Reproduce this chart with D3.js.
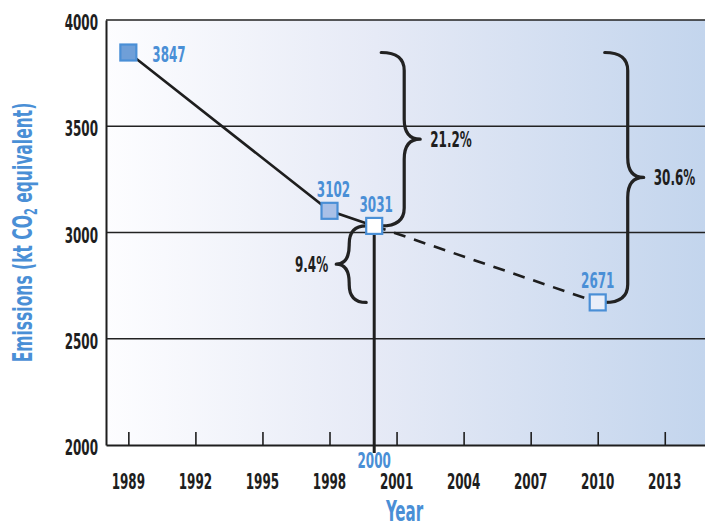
<!DOCTYPE html>
<html>
<head>
<meta charset="utf-8">
<script src="https://cdn.jsdelivr.net/npm/d3@7"></script>
<style>
  html, body { margin: 0; padding: 0; background: #fff; }
  svg text { font-family: "DejaVu Sans Condensed", "DejaVu Sans", sans-serif; font-stretch: condensed; }
</style>
</head>
<body>
<svg id="chart" width="705" height="529"></svg>
<script>
// Emissions series (kt CO2 equivalent)
const years = [1989, 1998, 2000, 2010];
const emissions = [3847, 3102, 3031, 2671];
const markerFills = ["#6f9fd8", "#a9c0e7", "#ffffff", "#e9eef9"];
const solidUntil = 2000; // later segment is a projection, drawn dashed

const xTicks = [1989, 1992, 1995, 1998, 2001, 2004, 2007, 2010, 2013];
const yTicks = [2000, 2500, 3000, 3500, 4000];
const gridValues = [2500, 3000, 3500, 4000];

// Reduction braces: value span, anchor year, side and label
const braceFrom = [3847, 3031, 3847];
const braceTo = [3031, 2671, 2671];
const braceYear = [2000, 2000, 2010];
const braceSide = ["right", "left", "right"];
const braceLabels = ["21.2%", "9.4%", "30.6%"];

const blue = "#4a8fd6";
const ink = "#1e1e1e";
const SX = 0.62;   // horizontal squeeze for a compressed display face
const FS = 21.5;   // base label size

const svg = d3.select("#chart");
const W = 705, H = 529;
const margin = { top: 20, right: 0, bottom: 84, left: 106 };

const x = d3.scaleLinear().domain([1988, 2014.8]).range([margin.left, W - margin.right]);
const y = d3.scaleLinear().domain([2000, 4000]).range([H - margin.bottom, margin.top]);

// background gradient
const defs = svg.append("defs");
const grad = defs.append("linearGradient").attr("id", "bg").attr("x1", "0%").attr("x2", "100%");
grad.append("stop").attr("offset", "0%").attr("stop-color", "#fdfdff");
grad.append("stop").attr("offset", "45%").attr("stop-color", "#e6eaf6");
grad.append("stop").attr("offset", "100%").attr("stop-color", "#c3d5ed");

svg.append("rect")
  .attr("x", x.range()[0]).attr("y", y(4000))
  .attr("width", x.range()[1] - x.range()[0])
  .attr("height", y(2000) - y(4000))
  .attr("fill", "url(#bg)");

// squeezed text helper
function squeezed(parent, px, py, str, opts) {
  const g = parent.append("g").attr("transform", `translate(${px},${py}) scale(${opts.sx || SX},1)`);
  return g.append("text")
    .attr("text-anchor", opts.anchor || "start")
    .attr("font-size", opts.size || FS)
    .attr("font-weight", opts.weight || "bold")
    .attr("fill", opts.fill || ink)
    .text(str);
}

// horizontal gridlines
svg.append("g").selectAll("line").data(gridValues).join("line")
  .attr("x1", x.range()[0]).attr("x2", x.range()[1])
  .attr("y1", d => y(d)).attr("y2", d => y(d))
  .attr("stroke", "#222").attr("stroke-width", 1.6);

// x axis with inward ticks
const xAxis = svg.append("g")
  .attr("transform", `translate(0,${y(2000)})`)
  .call(d3.axisBottom(x).tickValues(xTicks).tickSize(-13).tickSizeOuter(0).tickFormat(""));
xAxis.select(".domain").attr("stroke", ink).attr("stroke-width", 2);
xAxis.selectAll(".tick line").attr("stroke", ink).attr("stroke-width", 1.6);
xTicks.forEach(t => squeezed(svg, x(t), y(2000) + 44, String(t), { anchor: "middle" }));

// y axis
const yAxis = svg.append("g")
  .attr("transform", `translate(${x.range()[0]},0)`)
  .call(d3.axisLeft(y).tickValues(yTicks).tickSize(0).tickFormat(""));
yAxis.select(".domain").attr("stroke", ink).attr("stroke-width", 2);
yTicks.forEach(t => squeezed(svg, x.range()[0] - 8, y(t) + 10, String(t), { anchor: "end" }));

// axis titles
squeezed(svg, (x(1989) + x(2013)) / 2 + 8, 521, "Year", { anchor: "middle", size: 28, fill: blue, sx: 0.6 });
const yt = svg.append("g").attr("transform", `translate(31.5,${(y(2000) + y(4000)) / 2}) rotate(-90) scale(0.64,1)`)
  .append("text").attr("text-anchor", "middle").attr("font-size", 27).attr("font-weight", "bold").attr("fill", blue);
yt.append("tspan").text("Emissions (kt CO");
yt.append("tspan").attr("font-size", 17).attr("dy", 5).text("2");
yt.append("tspan").attr("dy", -5).text(" equivalent)");

// base-year marker line
const baseIdx = years.indexOf(2000);
svg.append("line")
  .attr("x1", x(2000)).attr("x2", x(2000))
  .attr("y1", y(emissions[baseIdx])).attr("y2", y(2000) + 8)
  .attr("stroke", ink).attr("stroke-width", 3);
squeezed(svg, x(2000), y(2000) + 23, "2000", { anchor: "middle", fill: blue, weight: "600" });

// trend line: historical solid, projection dashed
const pts = years.map((yr, i) => ({ yr, v: emissions[i], fill: markerFills[i] }));
const line = d3.line().x(d => x(d.yr)).y(d => y(d.v));
svg.append("path").datum(pts.filter(d => d.yr <= solidUntil))
  .attr("d", line).attr("fill", "none").attr("stroke", ink).attr("stroke-width", 2.6);
svg.append("path").datum(pts.filter(d => d.yr >= solidUntil))
  .attr("d", line).attr("fill", "none").attr("stroke", ink).attr("stroke-width", 2.6)
  .attr("stroke-dasharray", "12,9");

// braces
function braceGeom(b) {
  const s = b.side === "right" ? 1 : -1;
  const x0 = x(b.year) + s * (b.side === "right" ? 7 : 8);
  const x1 = x0 + s * (b.side === "right" ? 23 : 17);
  const x2 = x1 + s * (b.side === "right" ? 16 : 13);
  return { x0, x1, x2, yT: y(b.from), yB: y(b.to), yM: (y(b.from) + y(b.to)) / 2 };
}
function bracePath(b) {
  const { x0, x1, x2, yT, yB, yM } = braceGeom(b);
  const r = Math.min(18, (yB - yT) / 4);
  const r2 = Math.min(20, (yB - yT) / 4);
  return `M${x0},${yT} Q${x1},${yT} ${x1},${yT + r} L${x1},${yM - r2} Q${x1},${yM} ${x2},${yM}` +
         ` Q${x1},${yM} ${x1},${yM + r2} L${x1},${yB - r} Q${x1},${yB} ${x0},${yB}`;
}
const braces = braceLabels.map((label, i) => ({
  from: braceFrom[i], to: braceTo[i], year: braceYear[i], side: braceSide[i], label
}));
svg.append("g").selectAll("path").data(braces).join("path")
  .attr("d", bracePath).attr("fill", "none").attr("stroke", "#222")
  .attr("stroke-width", 3.2).attr("stroke-linecap", "round").attr("stroke-linejoin", "round");
braces.forEach(b => {
  const { x2, yM } = braceGeom(b);
  if (b.side === "right") squeezed(svg, x2 + 10, yM + 8, b.label, { anchor: "start" });
  else squeezed(svg, x2 - 8, yM + 8, b.label, { anchor: "end" });
});

// markers
const ms = 16;
svg.append("g").selectAll("rect").data(pts).join("rect")
  .attr("x", d => x(d.yr) - ms / 2).attr("y", d => y(d.v) - ms / 2)
  .attr("width", ms).attr("height", ms)
  .attr("fill", d => d.fill).attr("stroke", blue).attr("stroke-width", 2.2);

// value labels
pts.forEach((d, i) => {
  if (i === 0) {
    squeezed(svg, x(d.yr) + 24, y(d.v) + 9, String(d.v), { anchor: "start", fill: blue, weight: "600" });
  } else {
    const dx = d.yr === 2000 ? 2 : (d.yr === 1998 ? 4 : 0);
    squeezed(svg, x(d.yr) + dx, y(d.v) - 14, String(d.v), { anchor: "middle", fill: blue, weight: "600" });
  }
});
</script>
</body>
</html>
